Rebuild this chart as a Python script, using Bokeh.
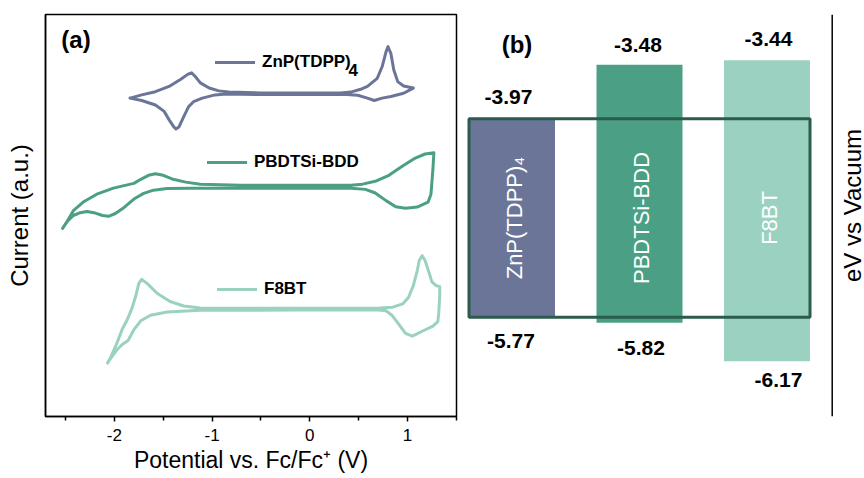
import math
from bokeh.plotting import figure
from bokeh.models import (ColumnDataSource, FixedTicker, Legend, LegendItem,
                          Label, Range1d, Span)
from bokeh.layouts import row
from bokeh.embed import file_html
from bokeh.resources import INLINE
from bokeh.core.properties import value

FONT = "Liberation Sans"

# ---------------- Panel (a): cyclic voltammograms ----------------
# Potential (V vs Fc/Fc+) and current (a.u., curves stacked)
znp_v = [-1.84, -1.72, -1.58, -1.44, -1.32, -1.25, -1.21, -1.17, -1.12, -1.03,
         -0.93, -0.83, -0.50, -0.10, 0.31, 0.42, 0.52, 0.59, 0.69, 0.74,
         0.78, 0.80, 0.83, 0.86, 0.90, 0.96, 1.06,
         0.96, 0.83, 0.74, 0.66, 0.59, 0.49, 0.38, -0.10, -0.50, -0.86,
         -0.97, -1.10, -1.19, -1.24, -1.29, -1.34, -1.37, -1.39, -1.44, -1.49,
         -1.58, -1.72, -1.84]
znp_i = [7.92, 8.00, 8.08, 8.21, 8.39, 8.51, 8.55, 8.45, 8.30, 8.17,
         8.10, 8.07, 8.05, 8.05, 8.05, 8.07, 8.14, 8.21, 8.41, 8.70,
         9.07, 9.20, 9.03, 8.62, 8.33, 8.22, 8.17,
         8.04, 7.96, 7.92, 7.86, 7.92, 7.99, 8.01, 8.01, 8.01, 8.02,
         8.00, 7.92, 7.83, 7.71, 7.46, 7.20, 7.15, 7.20, 7.38, 7.59,
         7.75, 7.86, 7.92]

pbd_v = [-2.53, -2.48, -2.42, -2.31, -2.18, -2.01, -1.89, -1.80, -1.73, -1.65,
         -1.58, -1.50, -1.41, -1.27, -1.12, -0.71, -0.10, 0.42, 0.54, 0.67,
         0.81, 0.95, 1.08, 1.18, 1.27,
         1.26, 1.24, 1.21, 1.10, 0.98, 0.88, 0.78, 0.67, 0.57, 0.42,
         -0.10, -0.71, -1.22, -1.46, -1.60, -1.70, -1.80, -1.90, -1.99, -2.06,
         -2.12, -2.21, -2.28, -2.35, -2.42, -2.48, -2.53]
pbd_i = [4.68, 4.87, 5.12, 5.35, 5.53, 5.68, 5.75, 5.80, 5.90, 6.00,
         6.04, 6.00, 5.91, 5.83, 5.78, 5.75, 5.75, 5.75, 5.78, 5.85,
         6.00, 6.23, 6.43, 6.53, 6.56,
         6.15, 5.53, 5.33, 5.21, 5.18, 5.22, 5.37, 5.56, 5.65, 5.68,
         5.68, 5.68, 5.68, 5.67, 5.63, 5.55, 5.41, 5.20, 5.05, 4.98,
         5.00, 5.07, 5.10, 5.07, 5.00, 4.86, 4.68]

f8_v = [-2.07, -2.04, -1.97, -1.92, -1.87, -1.82, -1.78, -1.75, -1.72, -1.66,
        -1.56, -1.43, -1.29, -1.12, -0.61, -0.10, 0.42, 0.72, 0.85, 0.95,
        1.01, 1.06, 1.10, 1.12, 1.15, 1.18, 1.22, 1.25, 1.29, 1.33,
        1.33, 1.32, 1.31, 1.26, 1.15, 1.05, 0.98, 0.91, 0.84, 0.78,
        0.70, -0.10, -1.12, -1.46, -1.63, -1.73, -1.80, -1.86, -1.92, -1.98,
        -2.04, -2.07]
f8_i = [1.33, 1.46, 1.85, 2.17, 2.40, 2.69, 3.01, 3.31, 3.41, 3.30,
        3.06, 2.86, 2.75, 2.70, 2.69, 2.69, 2.69, 2.70, 2.72, 2.80,
        2.96, 3.26, 3.63, 3.88, 4.00, 3.88, 3.58, 3.35, 3.26, 3.23,
        3.01, 2.57, 2.36, 2.25, 2.12, 2.00, 2.07, 2.30, 2.52, 2.63,
        2.65, 2.65, 2.64, 2.60, 2.52, 2.38, 2.16, 1.89, 1.79, 1.64,
        1.44, 1.33]

x_ticks = [-2, -1, 0, 1]
x_minor_ticks = [-2.5, -1.5, -0.5, 0.5, 1.5]
x_tick_labels = ["-2", "-1", "0", "1"]

# ---------------- Panel (b): energy levels ----------------
materials = ["ZnP(TDPP)\u2084", "PBDTSi-BDD", "F8BT"]
legend_names = ["ZnP(TDPP)", "PBDTSi-BDD", "F8BT"]
lumo = [-3.97, -3.48, -3.44]
homo = [-5.77, -5.82, -6.17]

C_ZNP = "#6B7598"
C_PBD = "#4A9F84"
C_F8 = "#9BD1C0"
C_BOX = "#2B5B4B"
bar_colors = [C_ZNP, C_PBD, C_F8]

# ================= figure (a) =================
p1 = figure(width=460, height=478, x_range=Range1d(-2.705, 1.5015),
            y_range=Range1d(0, 10), output_backend="svg", toolbar_location=None,
            min_border_left=45, min_border_right=4, min_border_top=14,
            min_border_bottom=59)
p1.grid.visible = False
p1.outline_line_color = "black"
p1.outline_line_width = 1.5
p1.background_fill_color = "white"
p1.border_fill_color = "white"

xa = p1.xaxis[0]
xa.ticker = FixedTicker(ticks=x_ticks, minor_ticks=x_minor_ticks)
xa.major_label_overrides = {t: l for t, l in zip(x_ticks, x_tick_labels)}
xa.axis_line_width = 1.5
xa.major_tick_line_width = 1.5
xa.minor_tick_line_width = 1.5
xa.major_tick_in = 0
xa.major_tick_out = 5
xa.minor_tick_in = 0
xa.minor_tick_out = 4
xa.major_label_standoff = 7
xa.major_label_text_font = FONT
xa.major_label_text_font_size = "17px"
xa.major_label_text_line_height = 1.0
xa.major_label_text_color = "black"
xa.axis_label = "Potential vs. Fc/Fc\u207a (V)"
xa.axis_label_text_font = FONT
xa.axis_label_text_font_size = "23px"
xa.axis_label_text_line_height = 1.0
xa.axis_label_text_font_style = "normal"
xa.axis_label_text_color = "black"
xa.axis_label_standoff = 3

ya = p1.yaxis[0]
ya.ticker = FixedTicker(ticks=[])
ya.axis_line_width = 1.5
ya.axis_label = "Current (a.u.)"
ya.axis_label_text_font = FONT
ya.axis_label_text_font_size = "24px"
ya.axis_label_text_font_style = "normal"
ya.axis_label_text_color = "black"
ya.axis_label_standoff = 13

r_znp = p1.line(znp_v, znp_i, line_color=C_ZNP, line_width=3,
                line_join="round", line_cap="round")
r_pbd = p1.line(pbd_v, pbd_i, line_color=C_PBD, line_width=3,
                line_join="round", line_cap="round")
r_f8 = p1.line(f8_v, f8_i, line_color=C_F8, line_width=3,
               line_join="round", line_cap="round")


def make_legend(label, rend, loc):
    lg = Legend(items=[LegendItem(label=label, renderers=[rend])], location=loc,
                padding=0, margin=0, spacing=0, border_line_color=None,
                background_fill_alpha=0, glyph_width=40, glyph_height=20,
                label_standoff=7, label_text_font=FONT,
                label_text_font_size="17px", label_text_font_style="bold",
                label_text_color="black")
    return lg


p1.add_layout(make_legend(legend_names[0], r_znp, (170, 344)))
p1.add_layout(make_legend(legend_names[1], r_pbd, (162, 244)))
p1.add_layout(make_legend(legend_names[2], r_f8, (172, 117)))
# subscript of ZnP(TDPP)4 in the legend
p1.add_layout(Label(x=303, y=347, x_units="screen", y_units="screen",
                    text="4", text_font=FONT, text_font_size="17px",
                    text_font_style="bold", text_align="left",
                    text_baseline="middle", text_color="black"))

p1.add_layout(Label(x=30.5, y=377.5, x_units="screen", y_units="screen",
                    text="(a)", text_font=FONT, text_font_size="24px",
                    text_font_style="bold", text_align="center",
                    text_baseline="middle", text_color="black"))

# ================= figure (b) =================
idx = list(range(len(materials)))
bar_w = 0.6745

p2 = figure(width=404, height=478, x_range=Range1d(-0.404, 2.7647),
            y_range=Range1d(-6.67, -3.025), x_axis_location=None,
            y_axis_location=None, output_backend="svg",
            toolbar_location=None, min_border_left=0, min_border_right=0,
            min_border_top=11, min_border_bottom=62)
p2.grid.visible = False
p2.outline_line_color = None
p2.background_fill_color = "white"
p2.border_fill_color = "white"

# energy axis line (no ticks) on the right of the diagram
p2.add_layout(Span(location=2.5114, dimension="height", line_color="black",
                   line_width=1.5))

src = ColumnDataSource(dict(x=idx, lumo=lumo, homo=homo, color=bar_colors,
                            name=materials,
                            lumo_txt=[f"{v:.2f}" for v in lumo],
                            homo_txt=[f"{v:.2f}" for v in homo],
                            mid=[(lumo[0] + homo[0]) / 2] * len(idx)))
p2.vbar(x="x", width=bar_w, top="lumo", bottom="homo", fill_color="color",
        line_color=None, source=src)
p2.quad(left=[idx[0] - bar_w / 2], right=[idx[-1] + bar_w / 2],
        top=[lumo[0]], bottom=[homo[0]], fill_color=None, line_color=C_BOX,
        line_width=3)

# level value labels (pixel nudges only)
src.data["lumo_dx"] = [-3.5, -1.5, 1.5]
src.data["lumo_dy"] = [-21.5, -20, -21]
src.data["homo_dx"] = [-1, 1.5, 11.5]
src.data["homo_dy"] = [23.5, 25.5, 18.5]

p2.text(x="x", y="lumo", text="lumo_txt", x_offset="lumo_dx", y_offset="lumo_dy",
        text_font=value(FONT), text_font_size="21px", text_font_style="bold",
        text_align="center", text_baseline="middle", text_color="black",
        source=src)
p2.text(x="x", y="homo", text="homo_txt", x_offset="homo_dx", y_offset="homo_dy",
        text_font=value(FONT), text_font_size="21px", text_font_style="bold",
        text_align="center", text_baseline="middle", text_color="black",
        source=src)

p2.text(x="x", y="mid", text="name", angle=math.pi / 2, x_offset=2,
        text_font=value(FONT), text_font_size="22px", text_align="center",
        text_baseline="middle", text_color="white", source=src)

p2.add_layout(Label(x=56.5, y=372, x_units="screen", y_units="screen",
                    text="(b)", text_font=FONT, text_font_size="24px",
                    text_font_style="bold", text_align="center",
                    text_baseline="middle", text_color="black"))

# vertical axis title of panel (b), reading bottom to top
p2.add_layout(Label(x=391.5, y=211, x_units="screen", y_units="screen",
                    text="eV vs Vacuum", angle=math.pi / 2, angle_units="rad",
                    text_font=FONT, text_font_size="24px",
                    text_align="center", text_baseline="middle",
                    text_color="black"))

layout = row(p1, p2)
open("out.html", "w").write(file_html(layout, INLINE))
